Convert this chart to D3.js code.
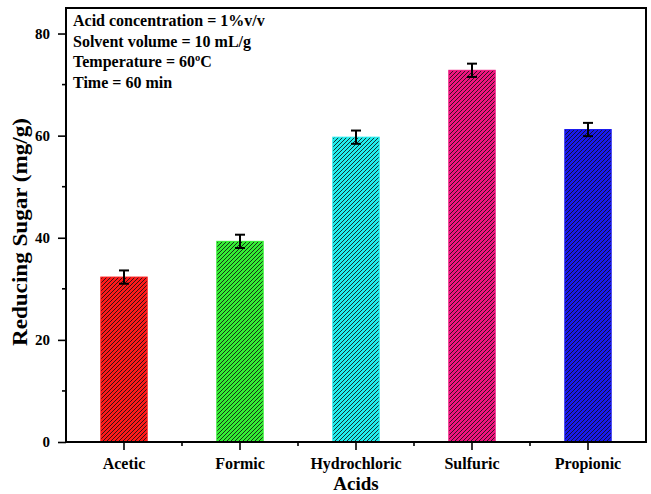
<!DOCTYPE html>
<html><head><meta charset="utf-8">
<script src="https://cdn.jsdelivr.net/npm/d3@7"></script>
<style>body{margin:0;background:#fff}svg{display:block}text{font-family:"Liberation Serif","Times New Roman",serif;font-weight:bold}</style>
</head><body><svg id="c" width="651" height="494"></svg>
<script>
const categories = ["Acetic","Formic","Hydrochloric","Sulfuric","Propionic"];
const values = [32.3, 39.3, 59.7, 72.8, 61.2];
const errors = [1.3, 1.3, 1.3, 1.3, 1.3];
const colors = ["#ff1a1a","#33ee33","#22eeee","#f0147f","#1a1aee"];
const yTicks = [0,20,40,60,80];
const yMinor = [10,30,50,70];
const notes = ["Acid concentration = 1%v/v","Solvent volume = 10 mL/g","Temperature = 60ºC","Time = 60 min"];

const svg = d3.select("#c");
const L=66, R=646, T=8, B=442;
const x = d3.scaleBand().domain(categories).range([L,R]).padding(0);
const y = d3.scaleLinear().domain([0,85]).range([B,T]);

const defs = svg.append("defs");
colors.forEach((c,i)=>{
  const p = defs.append("pattern").attr("id","h"+i).attr("patternUnits","userSpaceOnUse")
    .attr("width",4).attr("height",4);
  p.append("rect").attr("width",4).attr("height",4).attr("fill",c);
  p.append("path").attr("d","M-1,1 l2,-2 M0,4 l4,-4 M3,5 l2,-2").attr("stroke","#111").attr("stroke-width",1).attr("opacity",0.85);
});

const bw = x.bandwidth()*0.4;
svg.selectAll(".bar").data(categories).enter().append("rect")
  .attr("x",d=>x(d)+x.bandwidth()/2-bw/2).attr("width",bw)
  .attr("y",(d,i)=>y(values[i])).attr("height",(d,i)=>B-y(values[i]))
  .attr("fill",(d,i)=>"url(#h"+i+")").attr("stroke",(d,i)=>colors[i]).attr("stroke-width",1);

// error bars
const eg = svg.append("g").attr("stroke","#000").attr("stroke-width",2);
categories.forEach((c,i)=>{
  const cx = x(c)+x.bandwidth()/2;
  eg.append("line").attr("x1",cx).attr("x2",cx).attr("y1",y(values[i]+errors[i])).attr("y2",y(values[i]-errors[i]));
  eg.append("line").attr("x1",cx-5).attr("x2",cx+5).attr("y1",y(values[i]+errors[i])).attr("y2",y(values[i]+errors[i]));
  eg.append("line").attr("x1",cx-5).attr("x2",cx+5).attr("y1",y(values[i]-errors[i])).attr("y2",y(values[i]-errors[i]));
});

// axes
const xa = svg.append("g").attr("transform",`translate(0,${B})`)
  .call(d3.axisBottom(x).tickSize(8).tickPadding(8));
xa.select(".domain").remove();
xa.selectAll("text").attr("font-size",16).attr("fill","#000").style("font-family","Liberation Serif").style("font-weight","bold");
xa.selectAll("line").attr("stroke-width",1.6);
// minor x ticks at boundaries
svg.append("g").selectAll("line").data(categories.slice(1)).enter().append("line")
  .attr("x1",d=>x(d)).attr("x2",d=>x(d)).attr("y1",B).attr("y2",B+4).attr("stroke","#000").attr("stroke-width",1.6);

const ya = svg.append("g").attr("transform",`translate(${L},0)`)
  .call(d3.axisLeft(y).tickValues(yTicks).tickSize(8).tickPadding(8));
ya.select(".domain").remove();
ya.selectAll("text").attr("font-size",15).attr("fill","#000").style("font-family","Liberation Serif").style("font-weight","bold");
ya.selectAll("line").attr("stroke-width",1.6);
svg.append("g").selectAll("line").data(yMinor).enter().append("line")
  .attr("x1",L-4).attr("x2",L).attr("y1",d=>y(d)).attr("y2",d=>y(d)).attr("stroke","#000").attr("stroke-width",1.6);

// frame
svg.append("rect").attr("x",L).attr("y",T).attr("width",R-L).attr("height",B-T)
  .attr("fill","none").attr("stroke","#000").attr("stroke-width",2);

// titles
svg.append("text").attr("x",(L+R)/2).attr("y",490).attr("text-anchor","middle").attr("font-size",19).text("Acids");
svg.append("text").attr("transform",`translate(27,232) rotate(-90)`).attr("text-anchor","middle").attr("font-size",20)
  .attr("textLength",228).attr("lengthAdjust","spacingAndGlyphs").text("Reducing Sugar (mg/g)");

// notes
svg.append("g").selectAll("text").data(notes).enter().append("text")
  .attr("x",73).attr("y",(d,i)=>26+i*20.5).attr("font-size",16).text(d=>d);
</script></body></html>
